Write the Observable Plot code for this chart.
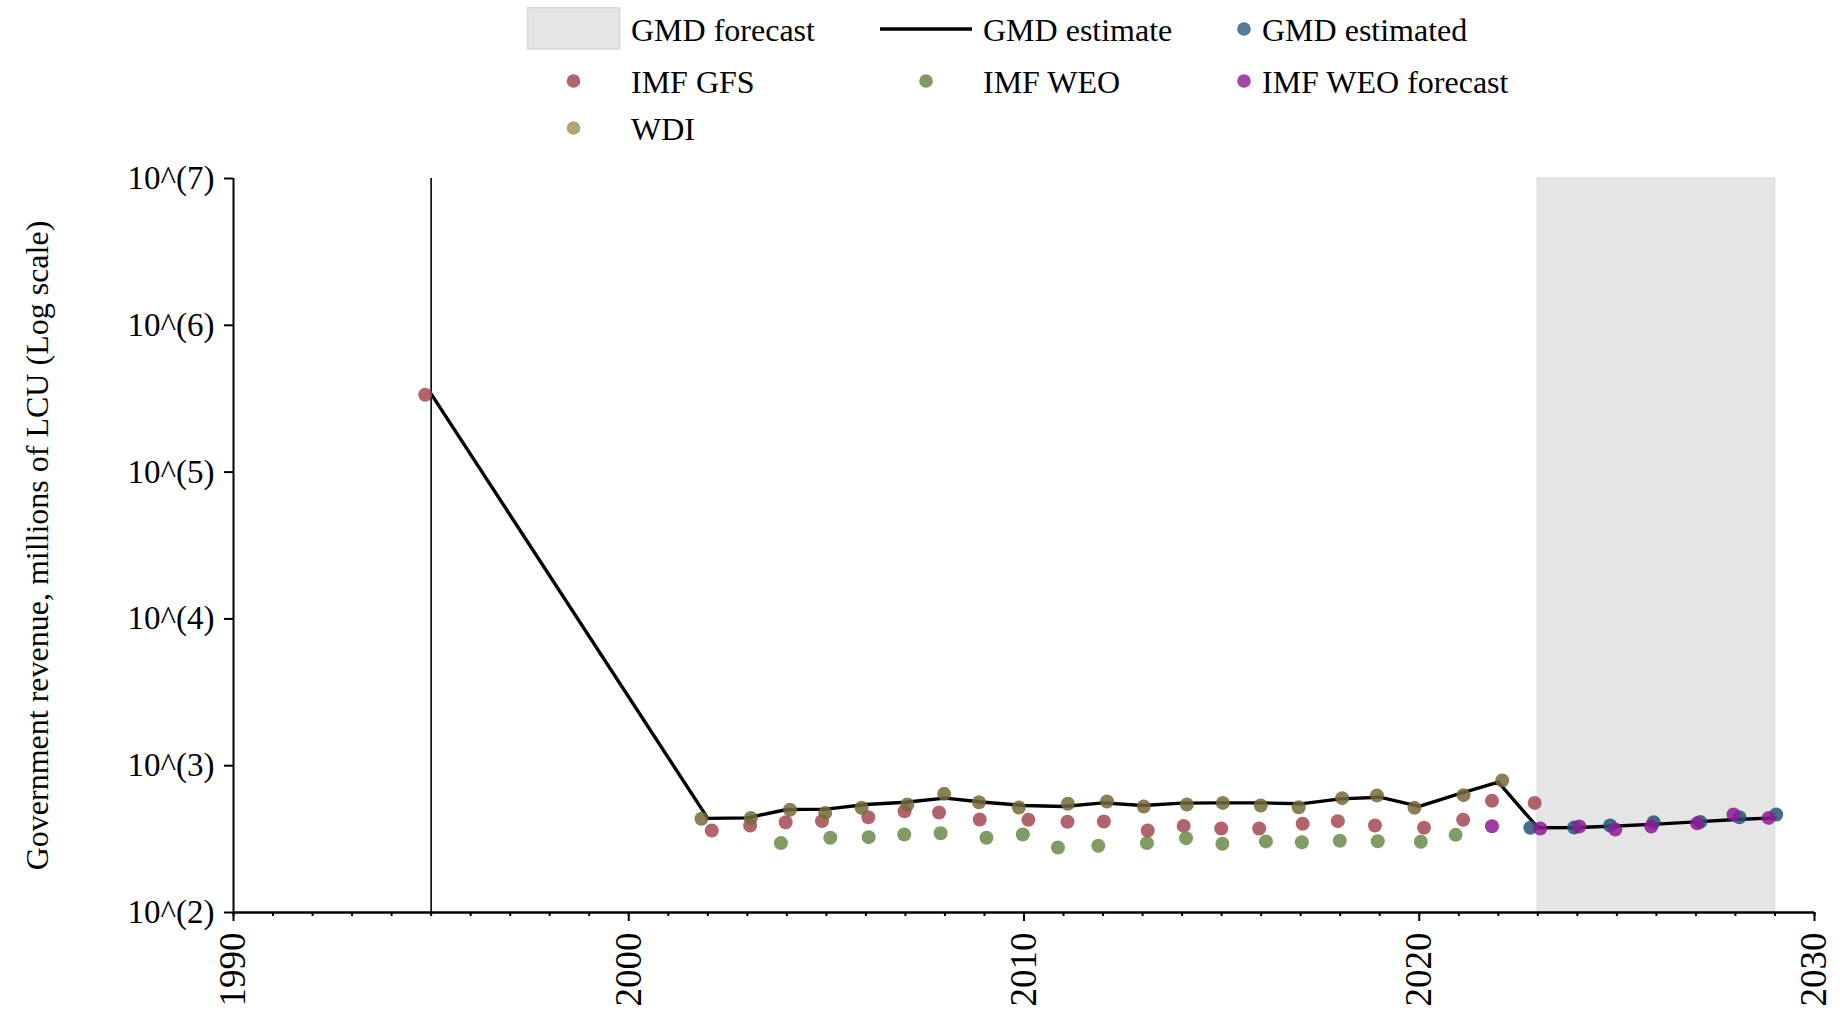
<!DOCTYPE html>
<html>
<head>
<meta charset="utf-8">
<script src="https://cdn.jsdelivr.net/npm/d3@7"></script>
<script src="https://cdn.jsdelivr.net/npm/@observablehq/plot@0.6"></script>
<style>
  html, body { margin: 0; padding: 0; background: white; }
  #wrap { width: 1840px; height: 1019px; overflow: hidden; font-family: "Liberation Serif", serif; }
  svg { display: block; }
</style>
</head>
<body>
<div id="wrap"></div>
<script>
// ---------------- DATA ----------------
// GMD estimate (black line)
const lineYears  = [1995, 2002, 2003, 2004, 2005, 2006, 2007, 2008, 2009, 2010, 2011, 2012, 2013, 2014, 2015, 2016, 2017, 2018, 2019, 2020, 2021, 2022, 2023, 2024, 2025, 2026, 2027, 2028, 2029];
const lineValues = [341000, 438, 441, 503, 506, 544, 564, 601, 564, 536, 527, 558, 536, 556, 558, 558, 550, 594, 610, 529, 643, 773, 378, 379, 388, 400, 414, 430, 441];

// IMF GFS
const gfsYears  = [1994.85, 2002.10, 2003.07, 2003.97, 2004.89, 2006.06, 2006.98, 2007.85, 2008.88, 2010.11, 2011.10, 2012.02, 2013.13, 2014.04, 2014.99, 2015.95, 2017.05, 2017.94, 2018.88, 2020.12, 2021.11, 2021.84, 2022.92];
const gfsValues = [336500, 362, 391, 412, 419, 446, 490, 480, 430, 428, 415, 417, 362, 389, 373, 373, 402, 419, 391, 378, 428, 577, 558];

// IMF WEO
const weoYears  = [2003.85, 2005.10, 2006.07, 2006.97, 2007.89, 2009.05, 2009.97, 2010.86, 2011.88, 2013.11, 2014.10, 2015.02, 2016.12, 2017.03, 2017.99, 2018.95, 2020.04, 2020.92];
const weoValues = [297, 323, 326, 340, 347, 323, 340, 277, 285, 297, 321, 294, 305, 301, 308, 306, 303, 338];

// WDI
const wdiYears  = [2001.84, 2003.09, 2004.08, 2004.97, 2005.89, 2007.05, 2007.98, 2008.86, 2009.87, 2011.11, 2012.10, 2013.03, 2014.12, 2015.03, 2015.99, 2016.95, 2018.05, 2018.93, 2019.88, 2021.12, 2022.10];
const wdiValues = [435, 440, 501, 477, 517, 544, 643, 564, 519, 550, 570, 527, 544, 558, 536, 521, 601, 627, 517, 630, 792];

// GMD estimated
const gmdEstYears  = [2022.81, 2023.92, 2024.83, 2025.93, 2027.11, 2028.10, 2029.03];
const gmdEstValues = [378, 379, 391, 412, 414, 446, 465];

// IMF WEO forecast
const weoFcYears  = [2021.84, 2023.06, 2024.05, 2024.96, 2025.87, 2027.03, 2027.95, 2028.84];
const weoFcValues = [387, 373, 385, 367, 385, 405, 465, 441];

// GMD forecast period
const forecastStart = [2023];
const forecastEnd   = [2029];

// marker year (vertical rule)
const markerYears = [1995];

// ticks
const decadeTicks = [1990, 2000, 2010, 2020, 2030];
const yearTicks = d3.range(1990, 2031);
const yTicks = [1e2, 1e3, 1e4, 1e5, 1e6, 1e7];
const yTickLabels = ["10^(2)", "10^(3)", "10^(4)", "10^(5)", "10^(6)", "10^(7)"];

const yTitle = "Government revenue, millions of LCU (Log scale)";

// legend
const legendLabels = ["GMD forecast", "GMD estimate", "GMD estimated", "IMF GFS", "IMF WEO", "IMF WEO forecast", "WDI"];
const legendKinds  = ["rect", "line", "dot", "dot", "dot", "dot", "dot"];
const legendColors = ["#e5e5e5", "#000000", "#55789B", "#B2646E", "#809A64", "#A346A6", "#B3A474"];

// ---------------- BUILD ----------------
const zip = (xs, ys) => xs.map((x, i) => ({x, y: ys[i]}));
const lineData  = zip(lineYears, lineValues);
const gfsData   = zip(gfsYears, gfsValues);
const weoData   = zip(weoYears, weoValues);
const wdiData   = zip(wdiYears, wdiValues);
const gmdEstData = zip(gmdEstYears, gmdEstValues);
const weoFcData = zip(weoFcYears, weoFcValues);
const forecastData = forecastStart.map((s, i) => ({x1: s, x2: forecastEnd[i]}));

const font = "Liberation Serif, Times New Roman, serif";
const wrap = document.getElementById("wrap");

// Legend (above the chart)
const legendSvg = d3.create("svg").attr("width", 1840).attr("height", 150)
  .style("font-family", font).style("font-size", "32px");
const colSwatch = [573.5, 926, 1244];
const colText = [631, 983, 1262];
const rowCenter = [29, 81, 128];
legendLabels.forEach((lab, i) => {
  const c = i % 3, r = Math.floor(i / 3);
  const cx = colSwatch[c], cy = rowCenter[r];
  const g = legendSvg.append("g");
  if (legendKinds[i] === "rect") {
    g.append("rect").attr("x", cx - 46).attr("y", cy - 21).attr("width", 92).attr("height", 41)
      .attr("fill", legendColors[i]).attr("stroke", "#dddddd").attr("stroke-width", 2);
  } else if (legendKinds[i] === "line") {
    g.append("line").attr("x1", cx - 46).attr("x2", cx + 46).attr("y1", cy).attr("y2", cy)
      .attr("stroke", legendColors[i]).attr("stroke-width", 3.5);
  } else {
    g.append("circle").attr("cx", cx).attr("cy", cy).attr("r", 6.8).attr("fill", legendColors[i]);
  }
  g.append("text").attr("x", colText[c]).attr("y", cy + 12).attr("fill", "black").text(lab);
});
wrap.appendChild(legendSvg.node());

const dotOpts = (color) => ({x: "x", y: "y", r: 7, fill: color, fillOpacity: 0.85, stroke: "none"});

const chart = Plot.plot({
  width: 1840,
  height: 869,
  marginLeft: 233,
  marginRight: 26,
  marginTop: 28,
  marginBottom: 107,
  style: {fontFamily: font, fontSize: "32px", color: "black", background: "white", overflow: "visible"},
  x: {domain: [1990, 2030]},
  y: {type: "log", domain: [1e2, 1e7]},
  marks: [
    Plot.rect(forecastData, {x1: "x1", x2: "x2", fill: "#e5e5e5", stroke: "#dcdcdc", strokeWidth: 1.5}),
    Plot.ruleX(markerYears, {stroke: "black", strokeWidth: 1.6}),
    Plot.line(lineData, {x: "x", y: "y", stroke: "black", strokeWidth: 3.4}),
    Plot.dot(gfsData, dotOpts("#A54955")),
    Plot.dot(weoData, dotOpts("#6A8949")),
    Plot.dot(wdiData, dotOpts("#756A3B")),
    Plot.dot(gmdEstData, dotOpts("#255578")),
    Plot.dot(weoFcData, dotOpts("#8F1A95")),
    Plot.ruleX([1990], {stroke: "black", strokeWidth: 2}),
    Plot.ruleY([1e2], {stroke: "black", strokeWidth: 2.5}),
    Plot.axisY({ticks: yTicks, tickFormat: (d) => yTickLabels[yTicks.indexOf(d)], tickSize: 9, tickPadding: 10, fontSize: 33, fontFamily: font, strokeWidth: 2, label: null}),
    Plot.axisX({ticks: yearTicks, tickSize: 4, tickFormat: () => "", strokeWidth: 2, label: null}),
    Plot.axisX({ticks: decadeTicks, tickSize: 9, tickRotate: -90, tickPadding: 11, fontSize: 37, fontFamily: font, strokeWidth: 2, tickFormat: (d) => String(d), label: null}),
    Plot.text([yTitle], {text: (d) => d, frameAnchor: "left", rotate: -90, dx: -196, fontSize: 32, fontFamily: font, textAnchor: "middle", lineAnchor: "middle", fill: "black"})
  ]
});
wrap.appendChild(chart);
</script>
</body>
</html>
